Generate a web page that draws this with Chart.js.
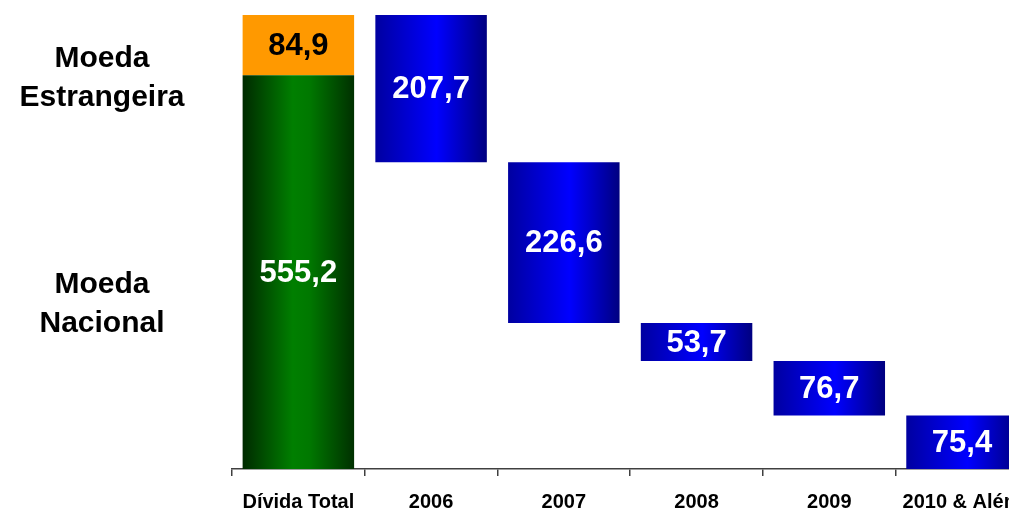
<!DOCTYPE html>
<html>
<head>
<meta charset="utf-8">
<script src="https://cdn.jsdelivr.net/npm/chart.js@4.4.0/dist/chart.umd.min.js"></script>
<style>
  html, body { margin: 0; padding: 0; background: #fff; overflow: hidden; }
  #wrap { position: relative; width: 1038px; height: 528px; }
  .side { position: absolute; width: 204px; text-align: center; font: bold 30px "Liberation Sans", Arial, sans-serif; line-height: 39px; color: #000; }
</style>
</head>
<body>
<div id="wrap">
  <canvas id="chart"></canvas>
  <div class="side" style="left:0; top:37px;">Moeda<br>Estrangeira</div>
  <div class="side" style="left:0; top:263px;">Moeda<br>Nacional</div>
</div>
<script>
// categories and values
const categories = ['Dívida Total', '2006', '2007', '2008', '2009', '2010 & Além'];
const moedaNacional = 555.2;
const moedaEstrangeira = 84.9;
const vencimentos = [207.7, 226.6, 53.7, 76.7, 75.4];

const BAR_PCT = 0.84;
const total = moedaNacional + moedaEstrangeira;

// floating ranges for the waterfall
const greenData = categories.map((c, i) => i === 0 ? [0, moedaNacional] : null);
const orangeData = categories.map((c, i) => i === 0 ? [moedaNacional, total] : null);
let remaining = total;
const blueData = [null];
vencimentos.forEach(v => {
    blueData.push([remaining - v, remaining]);
    remaining -= v;
});

function barGradient(stops, fallback) {
    return ctx => {
        const chart = ctx.chart;
        const xs = chart.scales.x;
        if (ctx.type !== 'data' || !xs || !chart.chartArea) return fallback;
        const cx = xs.getPixelForValue(ctx.dataIndex);
        const half = xs.width / categories.length * BAR_PCT / 2;
        const g = chart.ctx.createLinearGradient(cx - half, 0, cx + half, 0);
        stops.forEach(([p, c]) => g.addColorStop(p, c));
        return g;
    };
}

const fmt = v => v.toFixed(1).replace('.', ',');

const labelPlugin = {
    id: 'barLabels',
    afterDatasetsDraw(chart) {
        const ctx = chart.ctx;
        ctx.save();
        ctx.font = 'bold 31px "Liberation Sans", Arial, sans-serif';
        ctx.textAlign = 'center';
        ctx.textBaseline = 'middle';
        chart.data.datasets.forEach((ds, di) => {
            const meta = chart.getDatasetMeta(di);
            meta.data.forEach((el, i) => {
                const r = ds.data[i];
                if (!r) return;
                ctx.fillStyle = ds.labelColor;
                ctx.fillText(fmt(r[1] - r[0]), el.x, (el.y + el.base) / 2 + 1);
            });
        });
        ctx.restore();
    }
};

new Chart(document.getElementById('chart'), {
    type: 'bar',
    data: {
        labels: categories,
        datasets: [
            {
                label: 'Moeda Nacional',
                data: greenData,
                labelColor: '#fff',
                backgroundColor: barGradient([[0, '#002a00'], [0.45, '#007f00'], [0.6, '#007800'], [1, '#003000']], '#007f00')
            },
            {
                label: 'Moeda Estrangeira',
                data: orangeData,
                labelColor: '#000',
                backgroundColor: '#ff9900'
            },
            {
                label: 'Vencimentos',
                data: blueData,
                labelColor: '#fff',
                backgroundColor: barGradient([[0, '#0000a0'], [0.55, '#0000ff'], [1, '#000080']], '#0000ff')
            }
        ]
    },
    options: {
        responsive: true,
        maintainAspectRatio: false,
        animation: false,
        grouped: false,
        categoryPercentage: 1,
        barPercentage: BAR_PCT,
        layout: { padding: { left: 232, right: 6, top: 15, bottom: 0 } },
        plugins: { legend: { display: false }, tooltip: { enabled: false } },
        scales: {
            x: {
                grid: { offset: true, drawOnChartArea: false, tickLength: 7, color: '#404040', lineWidth: 1.5 },
                border: { display: true, color: '#404040', width: 1.5 },
                ticks: {
                    color: '#000',
                    padding: 16,
                    maxRotation: 0,
                    autoSkip: false,
                    font: { family: '"Liberation Sans", Arial, sans-serif', size: 20, weight: 'bold', lineHeight: 1 }
                }
            },
            y: { display: false, min: 0, max: total }
        }
    },
    plugins: [labelPlugin]
});
</script>
</body>
</html>
